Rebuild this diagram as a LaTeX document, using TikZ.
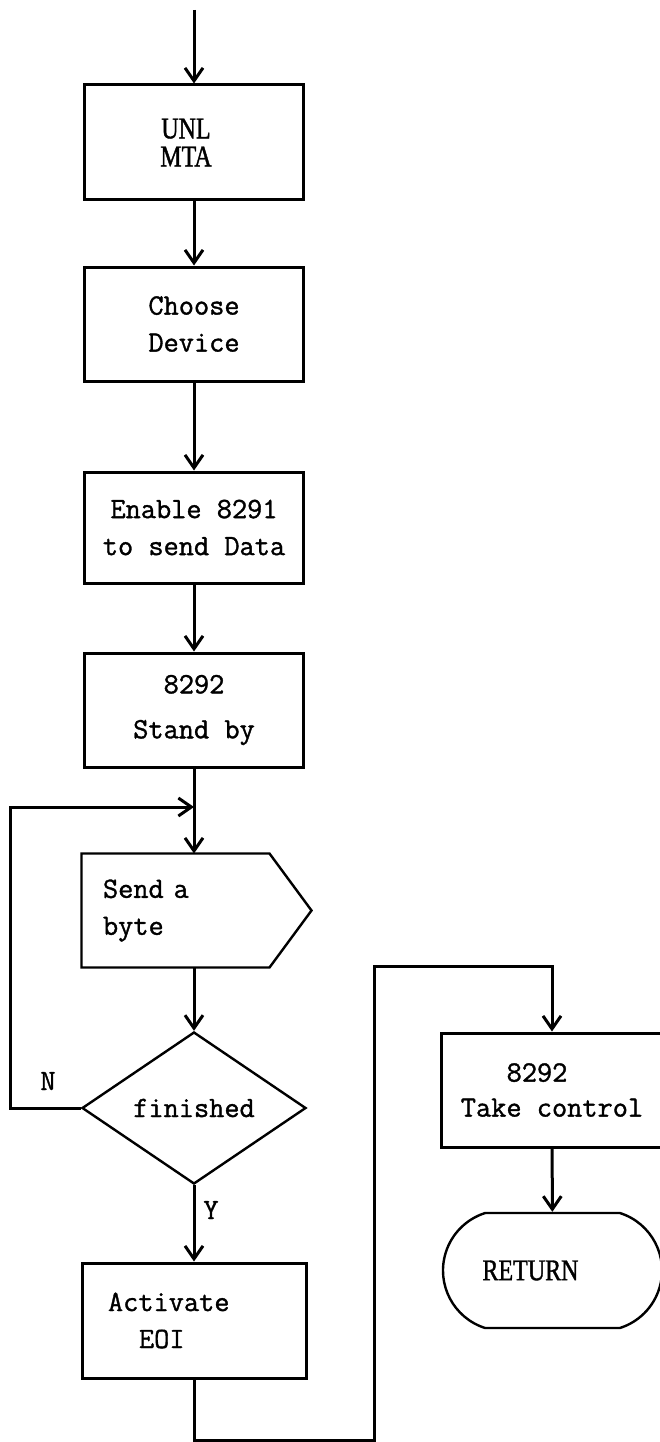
\documentclass[tikz,border=0pt]{standalone}
\usepackage{fontspec}
\newfontfamily\tmsfam{Liberation Serif}[FakeStretch=0.8,FakeBold=1.2]
\newfontfamily\monofam{Latin Modern Mono}[FakeBold=1.2]
\usetikzlibrary{arrows.meta,shapes.geometric,shapes.misc}
\begin{document}
\begin{tikzpicture}[x=1pt,y=-1pt,line width=3pt,
  >={Straight Barb[length=13pt,width=18pt]},
  mono/.style={font=\monofam\fontsize{29.5}{37}\selectfont},
  serif/.style={font=\tmsfam\fontsize{30}{28}\selectfont},
  box/.style={draw,rectangle,inner sep=0pt,minimum width=219pt,align=center,mono},
  thinline/.style={line width=2.4pt},
  lbl/.style={inner sep=0pt,mono}]
\useasboundingbox[fill=white] (0,0) rectangle (660,1442);

\coordinate (top) at (194,10);
\node[box,minimum height=115pt,serif] (b1) at (194,142.5) {UNL\hspace*{16pt}\\MTA\hspace*{16pt}};
\node[box,minimum height=114pt] (b2) at (194,324) {Choose\\Device};
\node[box,minimum height=111pt] (b3) at (194,527.5) {Enable 8291\\to send Data};
\node[box,minimum height=114pt] (b4) at (194,710) {8292\\[8pt]Stand by};
\coordinate (join) at (194,807);
\node[inner sep=0pt,minimum width=185pt,minimum height=111pt,text width=145pt,align=left,mono] (send) at (175.5,910.5) {Send a\\byte};
\draw[thinline] (send.north west) -- (send.north east) -- ([xshift=42pt]send.east) -- (send.south east) -- (send.south west) -- cycle;
\node[draw,thinline,diamond,inner sep=0pt,minimum width=224pt,minimum height=152pt,mono] (dec) at (194,1108) {finished};
\node[box,minimum width=224pt,minimum height=115pt,text width=172pt,align=left] (eoi) at (194,1320.5) {Activate\\\hspace*{31pt}EOI};
\node[box,minimum width=222pt,minimum height=114pt] (tc) at (552,1090) {8292\hspace*{30pt}\\[-2pt]Take control};
\node[draw,thinline,rounded rectangle,rounded rectangle arc length=145,inner sep=0pt,minimum width=219pt,minimum height=115pt,serif] (ret) at (552.5,1270.5) {RETURN\hspace*{44pt}};

\node[lbl] (N) at (48,1081) {N};
\node[lbl] (Y) at (211,1210) {Y};

\coordinate (c1) at (374,1440);
\coordinate (c2) at (374,966);

\draw[->] (top) -- (b1);
\draw[->] (b1) -- (b2);
\draw[->] (b2) -- (b3);
\draw[->] (b3) -- (b4);
\draw[->] (b4.south) -- (b4.south |- send.north);
\draw[->] (b4.south |- send.south) -- (dec.north);
\draw[->] (dec.west) -- ++(-70,0) |- (join);
\draw[->] (dec.south) -- (eoi.north);
\draw[->] (eoi.south) |- (c1) -- (c2) -| (tc.north);
\draw[->] (tc) -- (ret);
\end{tikzpicture}
\end{document}
